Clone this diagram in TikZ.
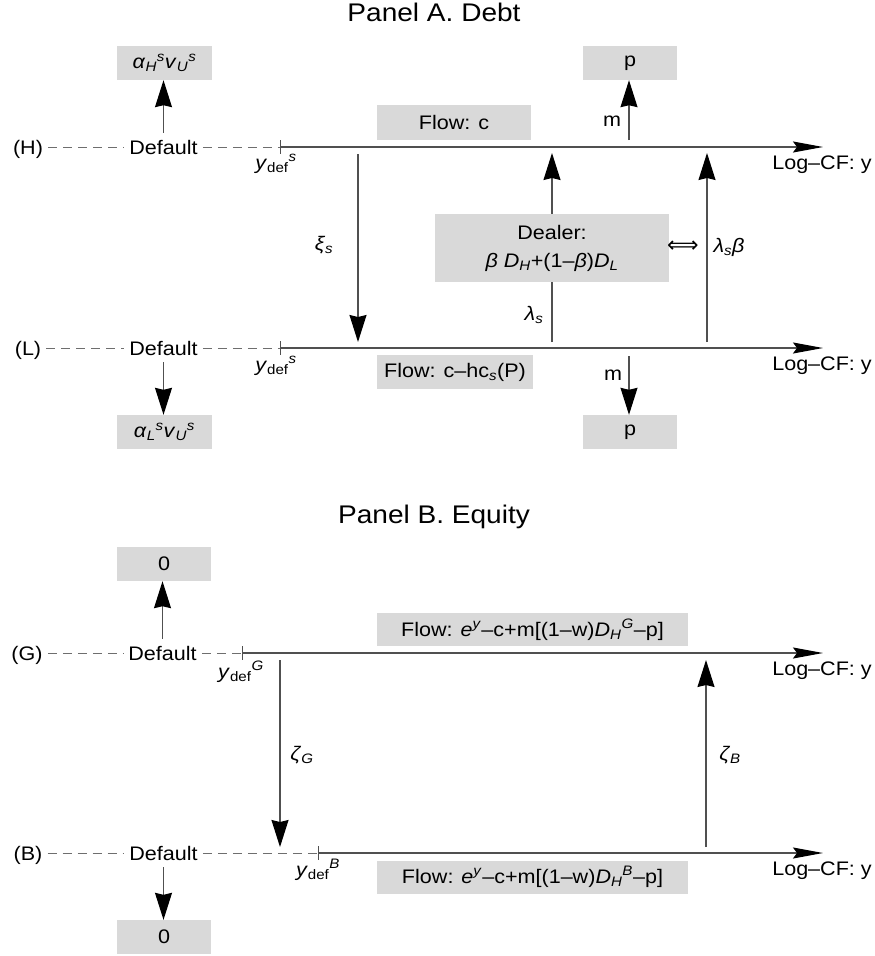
\documentclass[tikz,border=0pt]{standalone}
\usepackage{fontspec}
\setmainfont{Liberation Sans}[FakeStretch=1.1]
\newfontfamily\mysym{DejaVu Sans}
\usetikzlibrary{arrows.meta}
\definecolor{boxgray}{RGB}{217,217,217}
\definecolor{shaft}{RGB}{80,80,80}
\definecolor{dashc}{RGB}{110,110,110}
\newcommand\mynf{\fontsize{19.6}{28}\selectfont}
\newcommand\mytf{\fontsize{25.5}{30}\selectfont}
\newcommand\vi[1]{\textit{#1}}
\newcommand\lo[1]{\textsubscript{#1}}
\newcommand\hi[1]{\textsuperscript{#1}}
\begin{document}
\begin{tikzpicture}[x=1pt,y=-1pt,
  every node/.style={font=\mynf, inner sep=0pt},
  bx/.style={fill=boxgray, inner sep=0pt, align=center},
  ll/.style={text height=14pt, text depth=0pt, inner xsep=5pt, inner ysep=7pt},
  axis/.style={draw=shaft, line width=1.3pt, -{Stealth[length=30pt,width=11pt,inset=4pt,color=black]}},
  varr/.style={draw=shaft, line width=1.2pt, -{Stealth[length=27pt,width=17pt,inset=2pt,color=black]}},
  dsh/.style={draw=dashc, line width=1pt, dash pattern=on 9pt off 6pt},
  tickm/.style={draw=shaft, line width=1pt}]

\useasboundingbox (0,0) rectangle (875,956);

% Titles
\node[font=\mytf, anchor=base] (tA) at (434,21) {Panel A. Debt};
\node[font=\mytf, anchor=base] (tB) at (434,523) {Panel B. Equity};

% ---------------- Panel A ----------------
% line H
\node[ll] (H) at (28,147) {(H)};
\node[ll] (dH) at (163.5,147) {Default};
\coordinate (tkH) at (280,147);
\coordinate (eH) at (823,147);
\draw[dsh] (H.east) -- (dH.west);
\draw[dsh] (dH.east) -- (tkH);
\draw[tickm] (tkH) ++(0,-7) -- ++(0,14);
\draw[axis] (tkH) -- (eH);
\node[anchor=base] (ydH) at (276,169) {\vi{y}\lo{def}\hi{\vi{s}}};
\node (lcH) at (822,165) {Log–CF: y};

% line L
\node[ll] (L) at (28,348) {(L)};
\node[ll] (dL) at (163.5,348) {Default};
\coordinate (tkL) at (280,348);
\coordinate (eL) at (823,348);
\draw[dsh] (L.east) -- (dL.west);
\draw[dsh] (dL.east) -- (tkL);
\draw[tickm] (tkL) ++(0,-7) -- ++(0,14);
\draw[axis] (tkL) -- (eL);
\node[anchor=base] (ydL) at (276,371) {\vi{y}\lo{def}\hi{\vi{s}}};
\node (lcL) at (822,366) {Log–CF: y};

% boxes panel A
\node[bx, minimum width=95pt, minimum height=34pt] (aH) at (164.5,63)
  {\vi{α}\lo{\vi{H}}\hi{\vi{s}}\vi{v}\lo{\vi{U}}\hi{\vi{s}}};
\node[bx, minimum width=94pt, minimum height=34pt] (pH) at (630,63) {p};
\node[bx, minimum width=154pt, minimum height=35pt] (fH) at (454,122.5) {Flow: c};
\node[bx, minimum width=156pt, minimum height=34pt] (fL) at (455,372) {Flow: c–hc\lo{\vi{s}}(P)};
\node[bx, minimum width=94pt, minimum height=34pt] (pL) at (630,432) {p};
\node[bx, minimum width=95pt, minimum height=34pt] (aL) at (164.5,432)
  {\vi{α}\lo{\vi{L}}\hi{\vi{s}}\vi{v}\lo{\vi{U}}\hi{\vi{s}}};

% default arrows
\draw[varr] (dH.north) -- (dH.north |- aH.south);
\draw[varr] (dL.south) -- (dL.south |- aL.north);

% m arrows
\coordinate (mH) at (629,140);
\coordinate (mL) at (629,356);
\draw[varr] (mH) -- (mH |- pH.south);
\draw[varr] (mL) -- (mL |- pL.north);
\node (mHl) at (612,121) {m};
\node (mLl) at (613,375) {m};

% xi arrow
\coordinate (xiT) at (358,154);
\coordinate (xiB) at (358,342);
\draw[varr] (xiT) -- (xiB);
\node (xil) at (324,245) {\vi{ξ}\lo{\vi{s}}};

% lambda arrows
\coordinate (l1B) at (552,342);
\coordinate (l1T) at (552,153);
\coordinate (l2B) at (707,342);
\coordinate (l2T) at (707,153);
\draw[varr] (l1B) -- (l1T);
\draw[varr] (l2B) -- (l2T);
\node (l1l) at (534,315) {\vi{λ}\lo{\vi{s}}};
\node (l2l) at (729,247) {\vi{λ}\lo{\vi{s}}\vi{β}};

% dealer
\node[bx, minimum width=234pt, minimum height=68pt] (dealer) at (552,248)
  {Dealer:\\ \vi{β} \vi{D}\lo{\vi{H}}+(1–\vi{β})\vi{D}\lo{\vi{L}}};
\node (eqv) at (683,247) {\mysym\fontsize{22}{24}\selectfont ⟺};

% ---------------- Panel B ----------------
% line G
\node[ll] (G) at (27,653) {(G)};
\node[ll] (dG) at (162.5,653) {Default};
\coordinate (tkG) at (242,653);
\coordinate (eG) at (823,653);
\draw[dsh] (G.east) -- (dG.west);
\draw[dsh] (dG.east) -- (tkG);
\draw[tickm] (tkG) ++(0,-7) -- ++(0,14);
\draw[axis] (tkG) -- (eG);
\node[anchor=base] (ydG) at (241,678) {\vi{y}\lo{def}\hi{\vi{G}}};
\node (lcG) at (822,671) {Log–CF: y};

% line B
\node[ll] (B) at (28,853) {(B)};
\node[ll] (dB) at (163.5,853) {Default};
\coordinate (tkB) at (318,853);
\coordinate (eB) at (823,853);
\draw[dsh] (B.east) -- (dB.west);
\draw[dsh] (dB.east) -- (tkB);
\draw[tickm] (tkB) ++(0,-7) -- ++(0,14);
\draw[axis] (tkB) -- (eB);
\node[anchor=base] (ydB) at (318,876) {\vi{y}\lo{def}\hi{\vi{B}}};
\node (lcB) at (822,871) {Log–CF: y};

% boxes panel B
\node[bx, minimum width=94pt, minimum height=34pt] (zG) at (164,564) {0};
\node[bx, minimum width=311pt, minimum height=33pt] (fG) at (532.5,629.5)
  {Flow: \vi{e}\hi{\vi{y}}–c+m[(1–w)\vi{D}\lo{\vi{H}}\hi{\vi{G}}–p]};
\node[bx, minimum width=311pt, minimum height=33pt] (fB) at (532.5,877)
  {Flow: \vi{e}\hi{\vi{y}}–c+m[(1–w)\vi{D}\lo{\vi{H}}\hi{\vi{B}}–p]};
\node[bx, minimum width=94pt, minimum height=34pt] (zB) at (164,937) {0};

\draw[varr] (dG.north) -- (dG.north |- zG.south);
\draw[varr] (dB.south) -- (dB.south |- zB.north);

% zeta arrows
\coordinate (zgT) at (280,660);
\coordinate (zgB) at (280,847);
\coordinate (zbB) at (706,847);
\coordinate (zbT) at (706,660);
\draw[varr] (zgT) -- (zgB);
\draw[varr] (zbB) -- (zbT);
\node (zgl) at (302,755) {\vi{ζ}\lo{\vi{G}}};
\node (zbl) at (730,755) {\vi{ζ}\lo{\vi{B}}};

\end{tikzpicture}
\end{document}
